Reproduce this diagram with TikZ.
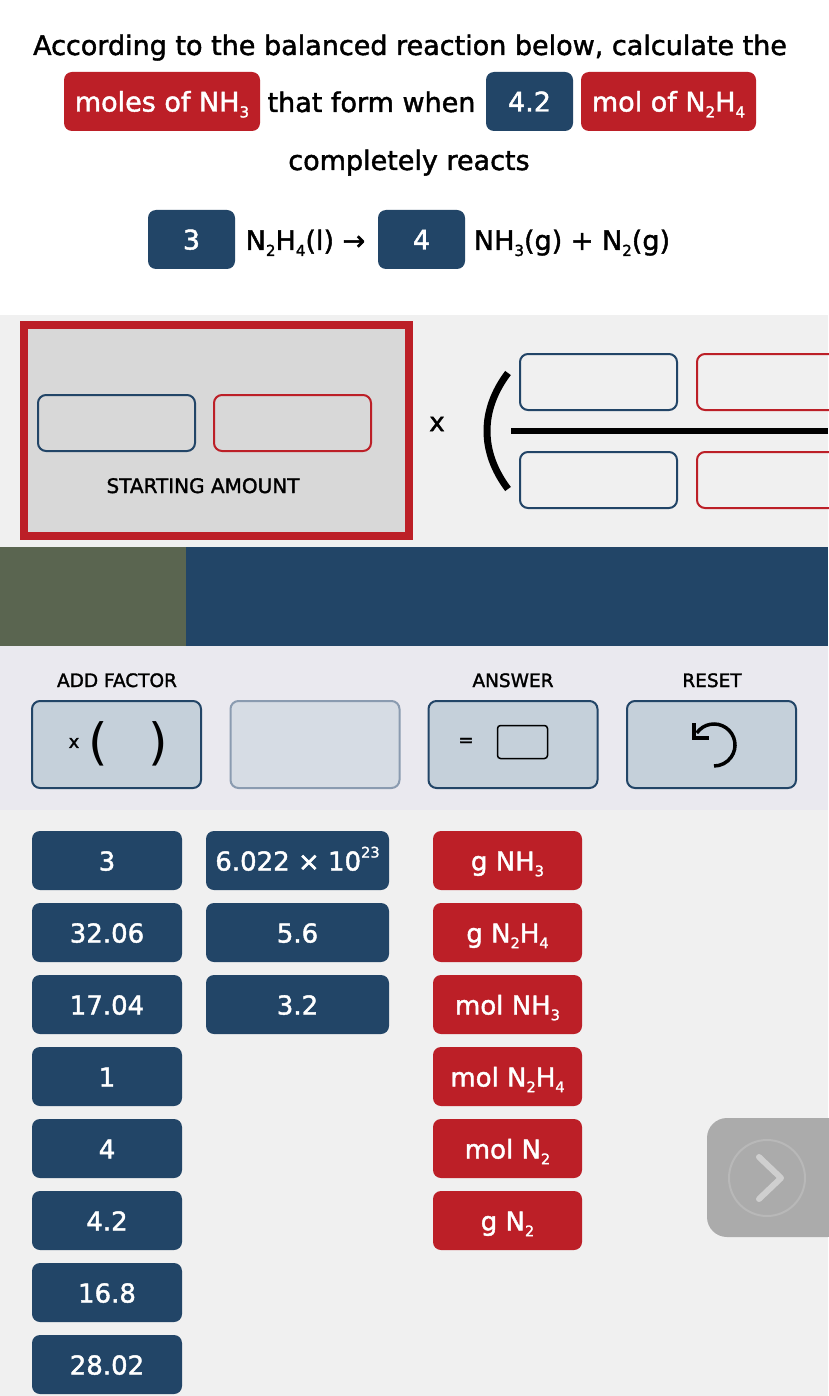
\documentclass[tikz,border=0pt]{standalone}
\usepackage{fontspec}
\setmainfont{DejaVu Sans}[FakeBold=1.6]
\newfontfamily\thinfont{DejaVu Sans}
\usetikzlibrary{positioning}

\definecolor{navy}{HTML}{224567}
\definecolor{crimson}{HTML}{BC1F27}
\definecolor{panel}{HTML}{F0F0F0}
\definecolor{toolbg}{HTML}{EAE9EF}
\definecolor{framefill}{HTML}{D8D8D8}
\definecolor{bandolive}{HTML}{5A6550}
\definecolor{btnfill}{HTML}{C5D0DA}
\definecolor{btnfilltwo}{HTML}{D6DCE4}
\definecolor{btnline}{HTML}{8A9BB0}
\definecolor{nextgray}{HTML}{ABABAB}
\definecolor{nextring}{HTML}{B8B8B8}
\definecolor{nextchev}{HTML}{CFCFCF}

\newcommand\chsub[1]{\raisebox{-0.22em}{\scalebox{0.56}{#1}}}
\newcommand\chsup[1]{\raisebox{0.5em}{\scalebox{0.56}{#1}}}

\begin{document}
\begin{tikzpicture}[x=1pt, y=-1pt, node distance=72pt, on grid,
  every node/.style={inner sep=0pt},
  words/.style={anchor=base, font=\fontsize{27}{32}\selectfont},
  tag/.style={rounded corners=8pt, text=white, minimum height=59pt,
    text height=20pt, text depth=0pt, font=\fontsize{27}{32}\selectfont},
  bluetag/.style={tag, fill=navy},
  redtag/.style={tag, fill=crimson},
  num/.style={bluetag, minimum width=150pt, font=\fontsize{26}{30}\selectfont},
  unit/.style={redtag, minimum width=149pt, font=\fontsize{26}{30}\selectfont},
  caption/.style={anchor=base, font=\fontsize{18.5}{22}\selectfont},
  blueslot/.style={draw=navy, line width=2pt, rounded corners=8pt,
    minimum width=157pt, minimum height=56pt},
  redslot/.style={blueslot, draw=crimson},
  tool/.style={draw=navy, line width=2pt, fill=btnfill, rounded corners=8pt,
    minimum width=169pt, minimum height=87pt}]

  \useasboundingbox (0,0) rectangle (828,1396);
  \fill[white] (0,0) rectangle (828,315);
  \fill[panel] (0,315) rectangle (828,547);
  \fill[bandolive] (0,547) rectangle (186,646);
  \fill[navy] (186,547) rectangle (828,646);
  \fill[toolbg] (0,646) rectangle (828,810);
  \fill[panel] (0,810) rectangle (828,1396);

  % question
  \node[words] (q0) at (410,55) {According to the balanced reaction below, calculate the};
  \node[redtag, minimum width=196pt] (want) at (162,101.5) {moles of NH\chsub{3}};
  \node[words] (q1) at (371.5,112) {that form when};
  \node[bluetag, minimum width=87pt] (given) at (529.5,101.5) {4.2};
  \node[redtag, minimum width=175pt] (givenunit) at (668.5,101.5) {mol of N\chsub{2}H\chsub{4}};
  \node[words] (q2) at (409,170) {completely reacts};

  % reaction
  \node[bluetag, minimum width=87pt] (c1) at (191.5,239.5) {3};
  \node[words] (r1) at (305.5,250) {N\chsub{2}H\chsub{4}(l) →};
  \node[bluetag, minimum width=87pt] (c2) at (421.5,239.5) {4};
  \node[words] (r2) at (572,250) {NH\chsub{3}(g) + N\chsub{2}(g)};

  % starting amount and factor
  \node[draw=crimson, line width=8pt, fill=framefill,
    minimum width=385pt, minimum height=211pt] (start) at (216.5,430.5) {};
  \node[blueslot] (s1) at (116.5,423) {};
  \node[redslot] (s2) at (292.5,423) {};
  \node[caption, font=\fontsize{20}{24}\selectfont] (startlbl) at (203,493) {STARTING AMOUNT};
  \node[font=\fontsize{26}{30}\selectfont] (times) at (437,424) {x};
  \draw[line width=7pt] (508,373) .. controls (480,410) and (480,452) .. (508,489);
  \draw[line width=6pt] (511,431) -- (828,431);
  \node[blueslot] (f1) at (598.5,382) {};
  \node[redslot] (f2) at (775.5,382) {};
  \node[blueslot] (f3) at (598.5,480) {};
  \node[redslot] (f4) at (775.5,480) {};

  % toolbar
  \node[caption] (addlbl) at (117,687) {ADD FACTOR};
  \node[caption] (anslbl) at (513,687) {ANSWER};
  \node[caption] (reslbl) at (712,687) {RESET};
  \node[tool] (addf) at (116.5,744.5) {};
  \node[tool, draw=btnline, fill=btnfilltwo] (blank) at (315,744.5) {};
  \node[tool] (answer) at (513,744.5) {};
  \node[tool] (reset) at (711.5,744.5) {};
  \node[font=\fontsize{18}{20}\selectfont] (addx) at (74,743) {x};
  \node[font=\thinfont\fontsize{50}{52}\selectfont] (lpar) at (98.5,743.5) {(};
  \node[font=\thinfont\fontsize{50}{52}\selectfont] (rpar) at (158,743.5) {)};
  \node[font=\fontsize{18}{20}\selectfont] (eq) at (466,742) {=};
  \node[draw, line width=1.5pt, rounded corners=3pt,
    minimum width=50pt, minimum height=33pt] (ansbox) at (522.5,742) {};
  \draw[line width=3.5pt] (714,745) ++(-145:21) arc[start angle=-145, end angle=90, radius=21];
  \draw[line width=3.5pt] (694,723) -- (694,738) -- (709,738);

  % tiles
  \node[num] (t1) at (107,860.5) {3};
  \node[num] (t2) [below=of t1] {32.06};
  \node[num] (t3) [below=of t2] {17.04};
  \node[num] (t4) [below=of t3] {1};
  \node[num] (t5) [below=of t4] {4};
  \node[num] (t6) [below=of t5] {4.2};
  \node[num] (t7) [below=of t6] {16.8};
  \node[num] (t8) [below=of t7] {28.02};
  \node[num, minimum width=183pt] (m1) at (297.5,860.5) {6.022 × 10\chsup{23}};
  \node[num, minimum width=183pt] (m2) [below=of m1] {5.6};
  \node[num, minimum width=183pt] (m3) [below=of m2] {3.2};
  \node[unit] (u1) at (507.5,860.5) {g NH\chsub{3}};
  \node[unit] (u2) [below=of u1] {g N\chsub{2}H\chsub{4}};
  \node[unit] (u3) [below=of u2] {mol NH\chsub{3}};
  \node[unit] (u4) [below=of u3] {mol N\chsub{2}H\chsub{4}};
  \node[unit] (u5) [below=of u4] {mol N\chsub{2}};
  \node[unit] (u6) [below=of u5] {g N\chsub{2}};

  % next
  \node[fill=nextgray, rounded corners=20pt, minimum width=141pt,
    minimum height=119pt] (next) at (777.5,1177.5) {};
  \node[draw=nextring, line width=2pt, circle, minimum size=76pt] (ring) at (767,1178) {};
  \draw[nextchev, line width=6pt, line cap=round, line join=round]
    (759,1157) -- (781,1178) -- (759,1199);
\end{tikzpicture}
\end{document}
